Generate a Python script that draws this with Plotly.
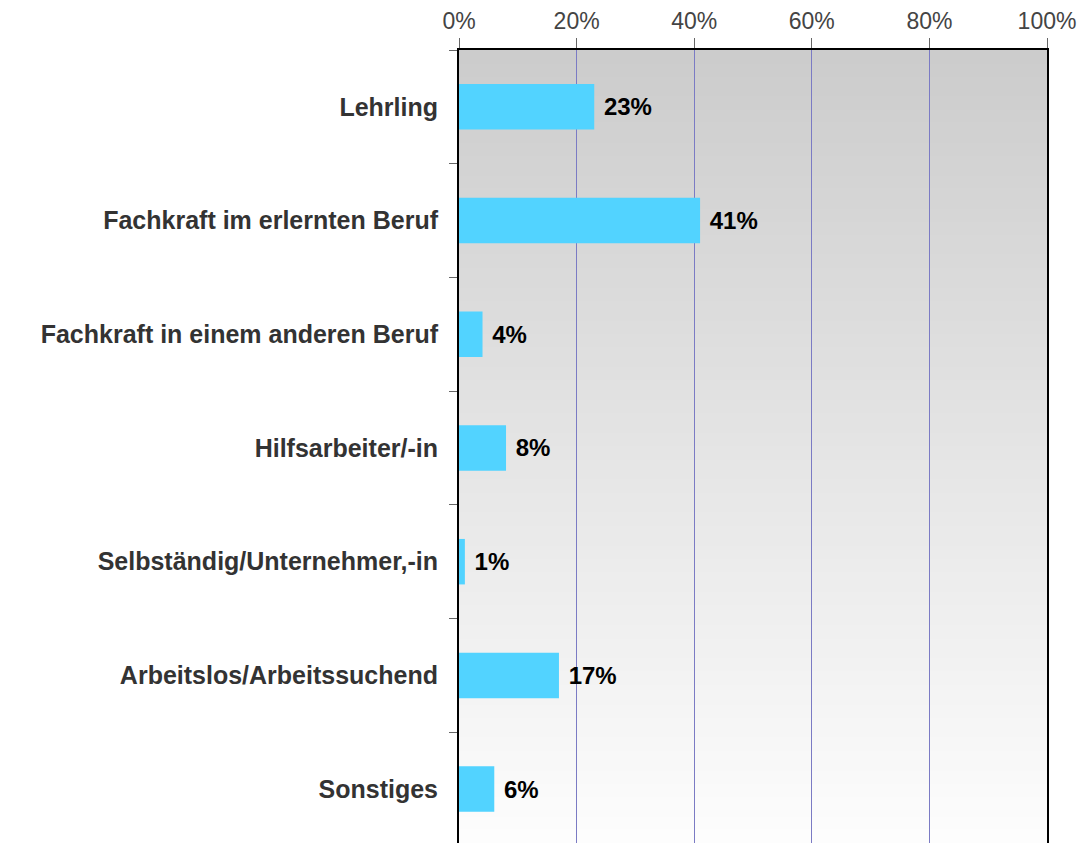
import plotly.graph_objects as go

categories = [
    "Lehrling",
    "Fachkraft im erlernten Beruf",
    "Fachkraft in einem anderen Beruf",
    "Hilfsarbeiter/-in",
    "Selbständig/Unternehmer,-in",
    "Arbeitslos/Arbeitssuchend",
    "Sonstiges",
]
values = [23, 41, 4, 8, 1, 17, 6]
tick_vals = [0, 20, 40, 60, 80, 100]
tick_text = ["0%", "20%", "40%", "60%", "80%", "100%"]

FONT = "Liberation Sans, Arial, Helvetica, sans-serif"

fig = go.Figure()
fig.add_trace(go.Bar(
    y=categories,
    x=values,
    orientation="h",
    width=0.4,
    marker=dict(color="#52d3ff", line=dict(width=0)),
    text=[f" {v}%" for v in values],
    textposition="outside",
    textfont=dict(family=FONT, size=24, color="#000000", weight="bold"),
    cliponaxis=False,
    hoverinfo="skip",
))

# vertical gradient background (grey at top -> near white at bottom)
n = 120
shapes = []
top = (0xcc, 0xcc, 0xcc)
bot = (0xfd, 0xfd, 0xfd)
for i in range(n):
    t = i / (n - 1)
    c = tuple(round(top[k] + (bot[k] - top[k]) * t) for k in range(3))
    y1 = 1 - i / n
    y0 = 1 - (i + 1) / n
    shapes.append(dict(
        type="rect", xref="x domain", yref="y domain",
        x0=0, x1=1, y0=y0 - 0.001, y1=y1,
        fillcolor="rgb(%d,%d,%d)" % c, line=dict(width=0), layer="below",
    ))

fig.update_layout(
    width=1080,
    height=835,
    margin=dict(l=451, r=41, t=40, b=0),
    paper_bgcolor="white",
    plot_bgcolor="white",
    showlegend=False,
    shapes=shapes,
    xaxis=dict(
        side="top",
        range=[0, 100],
        tickvals=tick_vals,
        ticktext=tick_text,
        tickfont=dict(family=FONT, size=23, color="#444444"),
        ticks="outside",
        ticklen=10,
        tickcolor="#666666",
        showgrid=True,
        gridcolor="#7b7bc4",
        gridwidth=1,
        showline=True,
        linecolor="#000000",
        linewidth=2,
        zeroline=False,
        fixedrange=True,
    ),
    yaxis=dict(
        type="category",
        range=[6.474, -0.5],
        tickfont=dict(family=FONT, size=25, color="#333333", weight="bold"),
        ticks="outside",
        tickson="boundaries",
        ticklen=8,
        tickcolor="#666666",
        showline=True,
        linecolor="#000000",
        linewidth=2,
        mirror=True,
        showgrid=False,
        zeroline=False,
        ticklabelstandoff=14,
        fixedrange=True,
    ),
)

fig.write_html("out.html")
